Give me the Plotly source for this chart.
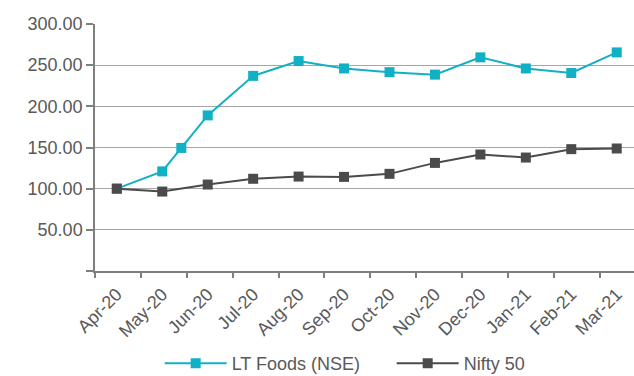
import calendar
import plotly.graph_objects as go

# ---- data -------------------------------------------------------------
months = ["Apr-20", "May-20", "Jun-20", "Jul-20", "Aug-20", "Sep-20",
          "Oct-20", "Nov-20", "Dec-20", "Jan-21", "Feb-21", "Mar-21"]

lt_dates = ["2020-04-01", "2020-05-01", "2020-05-14", "2020-06-01",
            "2020-07-01", "2020-08-01", "2020-09-01", "2020-10-01",
            "2020-11-01", "2020-12-01", "2021-01-01", "2021-02-01",
            "2021-03-01"]
lt_values = [100.0, 121.0, 149.5, 189.0, 237.0, 255.0, 246.0, 241.5,
             238.5, 259.5, 246.0, 240.5, 265.5]

nifty_dates = ["2020-04-01", "2020-05-01", "2020-06-01", "2020-07-01",
               "2020-08-01", "2020-09-01", "2020-10-01", "2020-11-01",
               "2020-12-01", "2021-01-01", "2021-02-01", "2021-03-01"]
nifty_values = [100.0, 96.5, 105.0, 112.0, 114.7, 114.3, 118.0, 131.3,
                141.5, 137.8, 148.0, 148.8]

y_ticks = [0, 50, 100, 150, 200, 250, 300]


def month_pos(d):
    y, m, day = (int(p) for p in d.split("-"))
    ndays = calendar.monthrange(y, m)[1]
    return (y - 2020) * 12 + (m - 4) + (day - 1) / ndays


lt_x = [month_pos(d) for d in lt_dates]
nifty_x = [month_pos(d) for d in nifty_dates]

TEAL = "#12B0C4"
DARK = "#4B4B4D"
TXT = "#595959"
FONT = "Liberation Sans, Arial, sans-serif"

fig = go.Figure()
fig.add_trace(go.Scatter(
    x=lt_x, y=lt_values, name="LT Foods (NSE)", mode="lines+markers",
    line=dict(color=TEAL, width=2),
    marker=dict(symbol="square", size=10, color=TEAL)))
fig.add_trace(go.Scatter(
    x=nifty_x, y=nifty_values, name="Nifty 50", mode="lines+markers",
    line=dict(color=DARK, width=2),
    marker=dict(symbol="square", size=10, color=DARK)))

# invisible trace on secondary axis so category-boundary tick marks show
fig.add_trace(go.Scatter(x=[0], y=[0], xaxis="x2", showlegend=False,
                         mode="markers", marker=dict(opacity=0),
                         hoverinfo="skip"))

fig.update_layout(
    width=634, height=376,
    margin=dict(l=95, r=0, t=24, b=105, autoexpand=False),
    paper_bgcolor="white", plot_bgcolor="white",
    font=dict(family=FONT, size=18, color=TXT),
    xaxis=dict(
        range=[-0.48, 11.38], automargin=False,
        tickvals=list(range(len(months))), ticktext=months,
        tickangle=-45, ticks="", showgrid=False, zeroline=False,
        showline=True, linecolor="#7F7F7F", linewidth=1.5,
        ticklabelstandoff=4,
        tickfont=dict(size=18, color=TXT)),
    xaxis2=dict(
        overlaying="x", range=[0, 11.745], tickvals=list(range(12)),
        ticks="outside", ticklen=6, tickcolor="#7F7F7F", tickwidth=1.5,
        showticklabels=False, showgrid=False, zeroline=False,
        showline=False, side="bottom", anchor="y", automargin=False),
    yaxis=dict(
        range=[0, 300], tickvals=y_ticks, automargin=False,
        ticktext=["" if v == 0 else f"{v:.2f}" for v in y_ticks],
        ticks="outside", ticklen=7, tickcolor="#7F7F7F", tickwidth=1.5,
        showgrid=True, gridcolor="#A6A6A6", gridwidth=1.3,
        zeroline=False, showline=True, linecolor="#7F7F7F", linewidth=1.5,
        tickfont=dict(size=18, color=TXT)),
    legend=dict(orientation="h", x=0.12, xanchor="left",
                y=-0.375, yanchor="middle", itemwidth=62,
                entrywidth=155, entrywidthmode="pixels",
                font=dict(size=18, color=TXT), bgcolor="rgba(0,0,0,0)"),
    showlegend=True,
)

fig.write_html("out.html")
